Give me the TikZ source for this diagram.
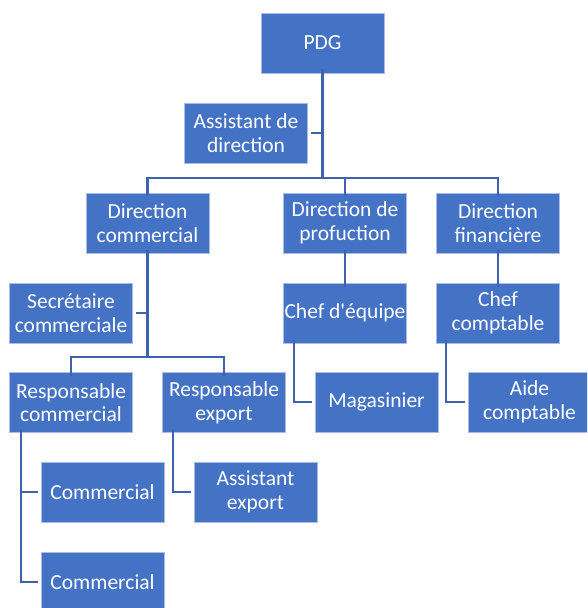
\documentclass[tikz,border=0pt]{standalone}
\usepackage{fontspec}
\setmainfont{Carlito}[Ligatures=TeXOff]
\definecolor{boxfill}{HTML}{4472C4}
\definecolor{boxline}{HTML}{A9BEE6}
\definecolor{conn}{HTML}{3F62AE}
\begin{document}
\begin{tikzpicture}[x=1pt,y=-1pt,
  box/.style={rectangle,fill=boxfill,draw=boxline,line width=0.6pt,minimum width=123pt,minimum height=60pt,inner sep=0pt,align=center,text=white,font=\fontsize{21.5}{23.7}\selectfont},
  link/.style={draw=conn,line width=2.2pt}]
\useasboundingbox (0,0) rectangle (587,608);
\begin{scope}
\clip (0,0) rectangle (587,608);
\node[box] (PDG) at (322.5,43) {PDG};
\node[box] (Asst) at (246,133) {Assistant de\\direction};
\node[box] (DC) at (147.5,223) {Direction\\commercial};
\node[box] (DP) at (345,223) {Direction de\\profuction};
\node[box] (DF) at (498,223) {Direction\\financière};
\node[box] (Sec) at (71,313) {Secrétaire\\commerciale};
\node[box] (CE) at (345,313) {Chef d'équipe};
\node[box] (CC) at (498,313) {Chef\\comptable};
\node[box] (RC) at (71,402.5) {Responsable\\commercial};
\node[box] (RE) at (224,402.5) {Responsable\\export};
\node[box] (Mag) at (376.5,402) {Magasinier};
\node[box] (Aide) at (529.5,402) {Aide\\comptable};
\node[box] (Com1) at (102.5,492) {Commercial};
\node[box] (AE) at (255.5,492) {Assistant\\export};
\node[box] (Com2) at (102.5,582) {Commercial};
\end{scope}
\coordinate (bus) at (0,178);
\coordinate (bus2) at (0,357);
% PDG
\draw[link] ([yshift=4pt]PDG.south) -- (PDG.south |- bus);
\draw[link] ([xshift=3pt]Asst.east) -- (PDG.south |- Asst.east);
\draw[link] ([yshift=-3pt]DC.north) -- (DC.north |- bus) -- (DF.north |- bus) -- ([yshift=-3pt]DF.north);
\draw[link] ([yshift=-3pt]DP.north) -- (DP.north |- bus);
% Direction commercial
\draw[link] ([yshift=3pt]DC.south) -- (DC.south |- bus2);
\draw[link] ([xshift=3pt]Sec.east) -- (DC.south |- Sec.east);
\draw[link] ([yshift=-4pt]RC.north) -- (RC.north |- bus2) -- (RE.north |- bus2) -- ([yshift=-4pt]RE.north);
% production / finance
\draw[link] ([yshift=3pt]DP.south) -- ([yshift=-4pt]CE.north);
\draw[link] ([yshift=3pt]DF.south) -- ([yshift=-4pt]CC.north);
\draw[link] ([xshift=11pt,yshift=3pt]CE.south west) |- ([xshift=-3pt]Mag.west);
\draw[link] ([xshift=10pt,yshift=3pt]CC.south west) |- ([xshift=-3pt]Aide.west);
% responsables
\draw[link] ([xshift=12pt,yshift=4pt]RC.south west) |- ([xshift=-3pt]Com2.west);
\draw[link] ([xshift=12pt]RC.south west |- Com1.west) -- ([xshift=-3pt]Com1.west);
\draw[link] ([xshift=11pt,yshift=4pt]RE.south west) |- ([xshift=-3pt]AE.west);
\end{tikzpicture}
\end{document}
